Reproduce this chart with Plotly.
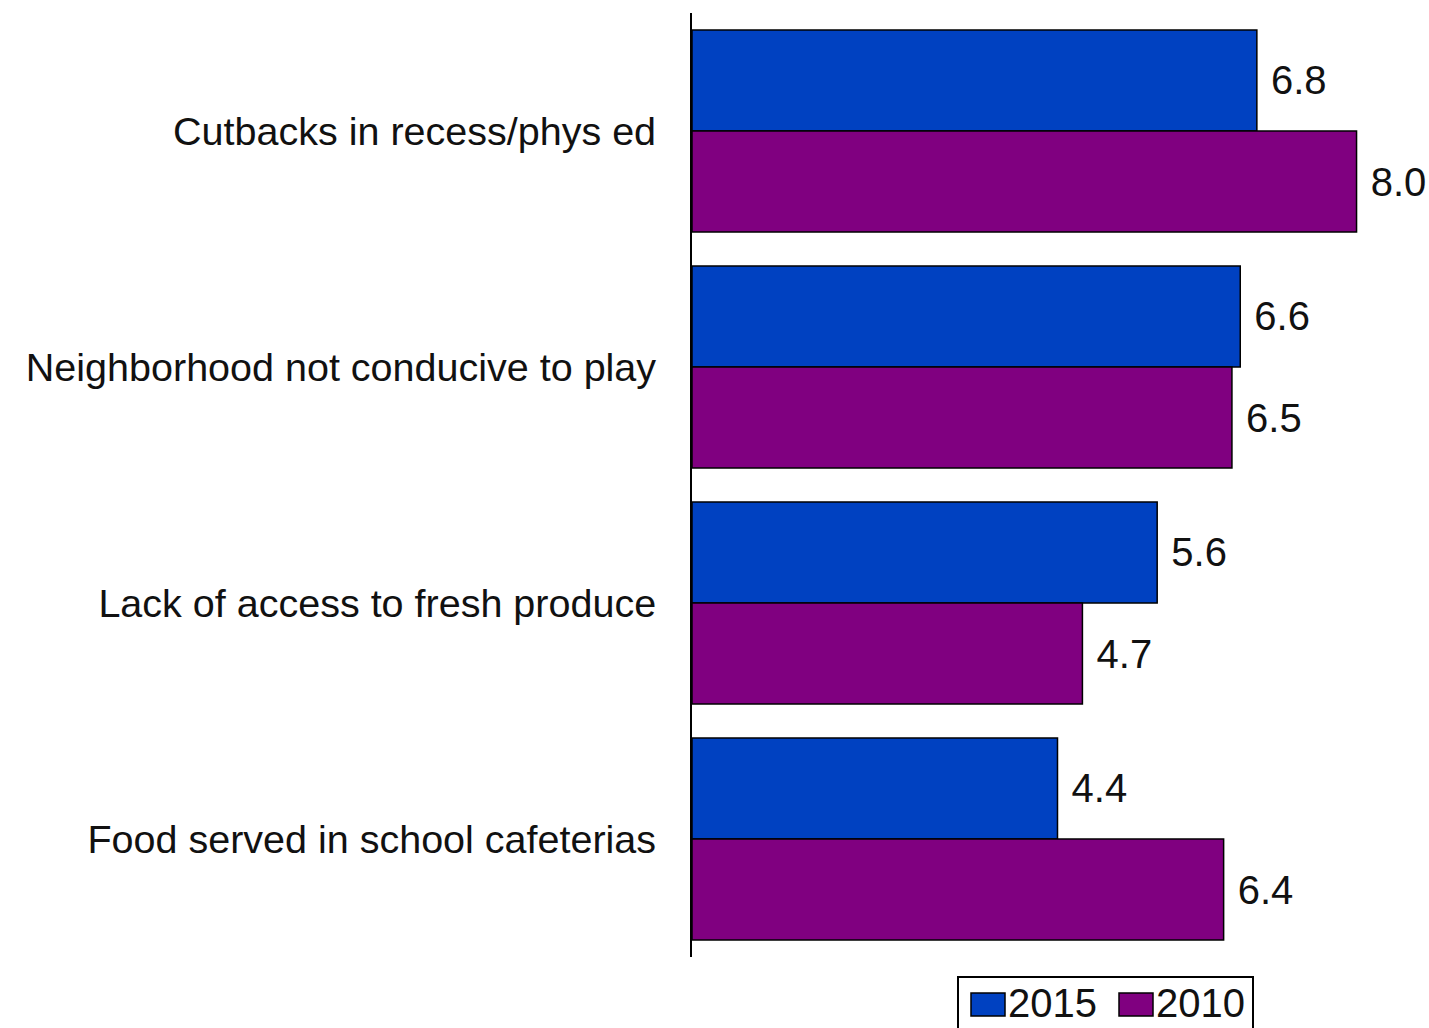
import plotly.graph_objects as go

# Survey categories (top to bottom) and scores per year
categories = [
    "Cutbacks in recess/phys ed",
    "Neighborhood not conducive to play",
    "Lack of access to fresh produce",
    "Food served in school cafeterias",
]
values_2015 = [6.8, 6.6, 5.6, 4.4]
values_2010 = [8.0, 6.5, 4.7, 6.4]
series_names = ["2015", "2010"]

BLUE = "#0041C1"
PURPLE = "#800080"
FONT = "Arial, Liberation Sans, sans-serif"
TEXT = "#111111"

W, H = 1429, 1028
ML, MR, MT, MB = 692, 6, 13, 71
PW, PH = W - ML - MR, H - MT - MB


def px_x(p):
    return (p - ML) / PW


def px_y(p):
    return (H - MB - p) / PH


fig = go.Figure()
for name, vals, color in [
    (series_names[0], values_2015, BLUE),
    (series_names[1], values_2010, PURPLE),
]:
    fig.add_trace(
        go.Bar(
            y=categories,
            x=vals,
            name=name,
            orientation="h",
            marker=dict(color=color, line=dict(color="#000000", width=1.5)),
            texttemplate=" %{x:.1f}",
            textposition="outside",
            textfont=dict(family=FONT, size=40, color=TEXT),
            constraintext="none",
            cliponaxis=False,
            showlegend=False,
        )
    )

# Hand-drawn legend below the plot
shapes = [
    dict(
        type="rect", xref="paper", yref="paper",
        x0=px_x(958), x1=px_x(1253), y0=px_y(1045), y1=px_y(977),
        line=dict(color="#000000", width=2), fillcolor="white", layer="above",
    ),
]
annotations = []
legend_items = [
    (series_names[0], BLUE, 971),
    (series_names[1], PURPLE, 1119),
]
for name, color, sx in legend_items:
    shapes.append(
        dict(
            type="rect", xref="paper", yref="paper",
            x0=px_x(sx), x1=px_x(sx + 34), y0=px_y(1016), y1=px_y(993),
            line=dict(color="#000000", width=1.5), fillcolor=color, layer="above",
        )
    )
    annotations.append(
        dict(
            text=name, xref="paper", yref="paper",
            x=px_x(sx + 35), y=px_y(1003), xanchor="left", yanchor="middle",
            showarrow=False, font=dict(family=FONT, size=40, color=TEXT),
        )
    )

fig.update_layout(
    width=W,
    height=H,
    margin=dict(l=ML, r=MR, t=MT, b=MB, pad=0),
    paper_bgcolor="white",
    plot_bgcolor="white",
    barmode="group",
    bargap=0.144,
    bargroupgap=0,
    font=dict(family=FONT, size=40, color=TEXT),
    shapes=shapes,
    annotations=annotations,
    showlegend=False,
    xaxis=dict(
        range=[0, 8.8],
        showgrid=False,
        zeroline=False,
        showline=False,
        showticklabels=False,
        ticks="",
    ),
    yaxis=dict(
        autorange="reversed",
        showgrid=False,
        zeroline=False,
        showline=True,
        linecolor="#000000",
        linewidth=2,
        ticks="",
        ticklabelstandoff=26,
        tickfont=dict(family=FONT, size=39.5, color=TEXT),
    ),
)

fig.write_html("out.html")
